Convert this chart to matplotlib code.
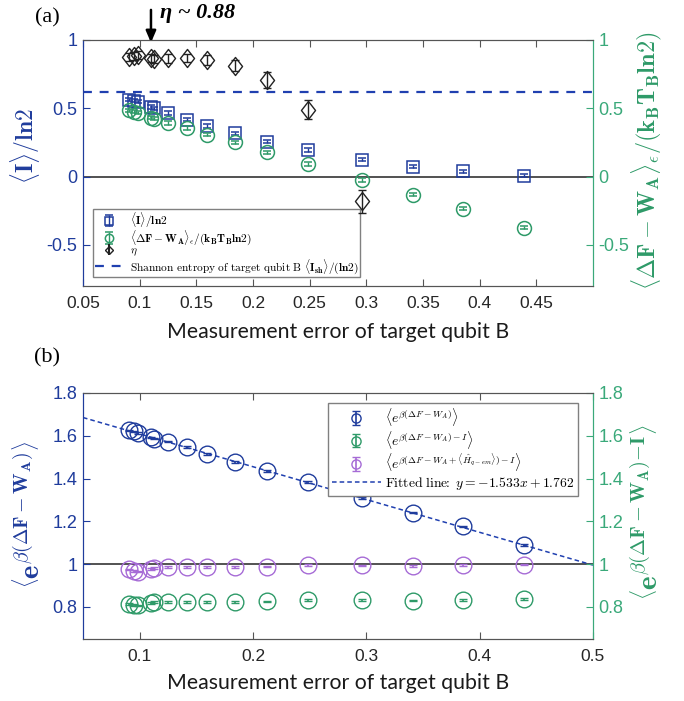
import matplotlib
matplotlib.use("Agg")
import matplotlib.pyplot as plt
from matplotlib.path import Path

plt.rcParams["mathtext.fontset"] = "cm"
plt.rcParams["font.family"] = ["Liberation Sans", "DejaVu Sans"]

# Measurement error of target qubit B (shared by both panels)
err_b = [0.0909, 0.0948, 0.0988, 0.1104, 0.1131, 0.1248, 0.1415, 0.159,
         0.1844, 0.2125, 0.2488, 0.2963, 0.341, 0.385, 0.439]

# Panel (a): mutual information, extracted work and efficiency
info = [0.564, 0.556, 0.548, 0.51, 0.50, 0.466, 0.417, 0.37,
        0.318, 0.257, 0.196, 0.125, 0.0735, 0.039, 0.007]
info_err = [0.012] * 15
work = [0.485, 0.475, 0.467, 0.432, 0.424, 0.392, 0.355, 0.306,
        0.252, 0.179, 0.093, -0.024, -0.132, -0.233, -0.373]
work_err = [0.012] * 15
eta_x = err_b[:12]
eta = [0.877, 0.885, 0.892, 0.870, 0.862, 0.865, 0.870, 0.853,
       0.811, 0.706, 0.490, -0.180]
eta_err = [0.03, 0.03, 0.03, 0.03, 0.03, 0.03, 0.03, 0.035,
           0.04, 0.06, 0.07, 0.085]
shannon = 0.62
eta_mark = 0.11

# Panel (b): Jarzynski-type averages
jar_full = [1.625, 1.620, 1.614, 1.592, 1.587, 1.573, 1.547, 1.516,
            1.477, 1.434, 1.383, 1.309, 1.241, 1.176, 1.089]
jar_info = [0.815, 0.810, 0.807, 0.820, 0.822, 0.824, 0.824, 0.824,
            0.824, 0.826, 0.831, 0.832, 0.830, 0.834, 0.836]
jar_qem = [0.975, 0.968, 0.965, 0.978, 0.981, 0.986, 0.987, 0.987,
           0.988, 0.989, 0.995, 0.994, 0.993, 0.997, 0.998]
jar_err = [0.004] * 15
fit_slope, fit_icpt = -1.533, 1.762
fit_x = [0.05, 0.5]

blue = "#1f3c9c"
green = "#2e9a68"
green_lt = "#3aa97a"
purple = "#a66bd6"
black = "#222222"
frame = "#555555"

diamond = Path([(0, 1), (0.78, 0), (0, -1), (-0.78, 0), (0, 1)],
               [Path.MOVETO, Path.LINETO, Path.LINETO, Path.LINETO, Path.CLOSEPOLY])

fig = plt.figure(figsize=(6.84, 7.01), dpi=100)
ax1 = fig.add_axes([0.1213, 0.592, 0.7456, 0.351])
ax3 = fig.add_axes([0.1213, 0.0884, 0.7456, 0.351])


def style_axes(ax, ax_r, xticks, yticks):
    ax.set_xticks(xticks, [f"{t:g}" for t in xticks])
    ax.set_yticks(yticks, [f"{t:g}" for t in yticks])
    ax_r.set_yticks(yticks, [f"{t:g}" for t in yticks])
    ax.tick_params(axis="x", direction="in", top=True, length=5, width=0.8,
                   color=frame, labelcolor="#262626", labelsize=12.5, pad=7)
    ax.tick_params(axis="y", direction="in", length=5, width=0.8,
                   color=blue, labelcolor=blue, labelsize=13, pad=4)
    ax_r.tick_params(axis="y", direction="in", length=5, width=0.8,
                     color=green_lt, labelcolor=green_lt, labelsize=13, pad=4)
    for a in (ax, ax_r):
        a.spines["top"].set_color(frame)
        a.spines["bottom"].set_color(frame)
        a.spines["left"].set_color(blue)
        a.spines["right"].set_color(green_lt)
        for s in a.spines.values():
            s.set_linewidth(0.8)


# ---------- panel (a) ----------
ax2 = ax1.twinx()
ax1.set_xlim(0.05, 0.5)
ax1.set_ylim(-0.8, 1.0)
ax2.set_ylim(-0.8, 1.0)
ax1.axhline(0, color=black, lw=1.1, zorder=1)
h_sh = ax1.axhline(shannon, color="#2040b0", lw=1.6, ls=(0, (4, 3.5)), zorder=1,
                   label=r"$\mathrm{Shannon\ entropy\ of\ target\ qubit\ B}\ "
                         r"\langle\mathbf{I_{sh}}\rangle/(\mathbf{ln2})$")
h_i = ax1.errorbar(err_b, info, yerr=info_err, fmt="s", ms=9, mfc="none",
                   mec=blue, mew=1.1, ecolor=blue, elinewidth=1, capsize=3,
                   label=r"$\langle\mathbf{I}\rangle/\mathbf{ln2}$", zorder=3)
h_w = ax2.errorbar(err_b, work, yerr=work_err, fmt="o", ms=10, mfc="none",
                   mec=green, mew=1.1, ecolor=green, elinewidth=1, capsize=3,
                   label=r"$\langle\mathbf{\Delta F-W_A}\rangle_\epsilon"
                         r"/(\mathbf{k_BT_Bln2})$", zorder=3)
h_e = ax1.errorbar(eta_x, eta, yerr=eta_err, fmt="none", ecolor=black,
                   elinewidth=1, capsize=3, zorder=6)
ax1.plot(eta_x, eta, ls="none", marker=diamond, ms=13, mfc="none",
         mec=black, mew=1.0, zorder=6)
h_eta = ax1.errorbar([], [], yerr=[], fmt="D", ms=7, mfc="none", mec=black,
                     ecolor=black, capsize=3, label=r"$\eta$")

style_axes(ax1, ax2, [0.05, 0.1, 0.15, 0.2, 0.25, 0.3, 0.35, 0.4, 0.45],
           [-0.5, 0, 0.5, 1])
ax1.set_ylabel(r"$\langle\mathbf{I}\rangle/\mathbf{ln2}$", color=blue,
               fontsize=17, va="center")
ax1.yaxis.set_label_coords(-0.114, 0.57)
ax2.set_ylabel(r"$\langle\mathbf{\Delta F-W_A}\rangle_\epsilon/(\mathbf{k_BT_Bln2})$",
               color=green, fontsize=17.5, va="center", rotation=90)
ax2.yaxis.set_label_coords(1.106, 0.51)
ax1.set_xlabel("Measurement error of target qubit B", family="Lato",
               fontsize=15.3, color="#1a1a1a", va="center")
ax1.xaxis.set_label_coords(0.5, -0.187)

leg1 = ax1.legend([h_i, h_w, h_eta, h_sh],
                  [h_i.get_label(), h_w.get_label(), r"$\eta$", h_sh.get_label()],
                  loc="lower left", bbox_to_anchor=(0.02, 0.037), fontsize=8.2,
                  markerscale=0.6, fancybox=False, framealpha=1,
                  edgecolor="#808080", borderpad=0.12, labelspacing=-0.12,
                  handlelength=2.6, handletextpad=0.5, borderaxespad=0)
leg1.get_frame().set_linewidth(1.0)
leg1.set_zorder(5)

ax1.annotate("", xy=(eta_mark, 0.98), xytext=(eta_mark, 1.22),
             xycoords="data", annotation_clip=False,
             arrowprops=dict(arrowstyle="-|>,head_length=0.7,head_width=0.3",
                             color="black", lw=1.8, shrinkA=0, shrinkB=0))
fig.text(160 / 684, 1 - 13 / 701, "η ~ 0.88", family="Liberation Serif",
         weight="bold", style="italic", fontsize=16, va="center", ha="left")
fig.text(47 / 684, 1 - 18 / 701, "(a)", family="Liberation Serif",
         fontsize=16, va="center", ha="center")

# ---------- panel (b) ----------
ax4 = ax3.twinx()
ax3.set_xlim(0.05, 0.5)
ax3.set_ylim(0.65, 1.8)
ax4.set_ylim(0.65, 1.8)
ax3.axhline(1.0, color="#444444", lw=1.3, zorder=1)
h_fit, = ax3.plot(fit_x, [fit_slope * x + fit_icpt for x in fit_x],
                  color="#2040b0", lw=1.1, ls=(0, (3, 2)), zorder=2,
                  label=r"$\mathrm{Fitted\ line}\!\!:\ y=-1.533x+1.762$")
h_f = ax3.errorbar(err_b, jar_full, yerr=jar_err, fmt="o", ms=12, mfc="none",
                   mec=blue, mew=1.0, ecolor=blue, elinewidth=1.2, capsize=3,
                   zorder=3, label=r"$\langle e^{\beta(\Delta F-W_A)}\rangle$")
h_g = ax4.errorbar(err_b, jar_info, yerr=jar_err, fmt="o", ms=12, mfc="none",
                   mec=green, mew=1.0, ecolor=green, elinewidth=1.2, capsize=3,
                   zorder=3, label=r"$\langle e^{\beta(\Delta F-W_A)-I}\rangle$")
h_p = ax3.errorbar(err_b, jar_qem, yerr=jar_err, fmt="o", ms=12, mfc="none",
                   mec=purple, mew=1.0, ecolor=purple, elinewidth=1.2, capsize=3,
                   zorder=3,
                   label=r"$\langle e^{\beta(\Delta F-W_A+\langle\hat{H}_{q-em}\rangle)-I}\rangle$")

style_axes(ax3, ax4, [0.1, 0.2, 0.3, 0.4, 0.5], [0.8, 1, 1.2, 1.4, 1.6, 1.8])
ax3.set_ylabel(r"$\left\langle\mathbf{e}^{\beta(\mathbf{\Delta F-W_A})}\right\rangle$",
               color=blue, fontsize=20.5, va="center")
ax3.yaxis.set_label_coords(-0.104, 0.508)
ax4.set_ylabel(r"$\left\langle\mathbf{e}^{\beta(\mathbf{\Delta F-W_A})\mathbf{-I}}\right\rangle$",
               color=green, fontsize=21, va="center", rotation=90)
ax4.yaxis.set_label_coords(1.106, 0.516)
ax3.set_xlabel("Measurement error of target qubit B", family="Lato",
               fontsize=15.3, color="#1a1a1a", va="center")
ax3.xaxis.set_label_coords(0.5, -0.179)

leg2 = ax4.legend([h_f, h_g, h_p, h_fit],
                  [h_f.get_label(), h_g.get_label(), h_p.get_label(), h_fit.get_label()],
                  loc="upper right", bbox_to_anchor=(0.97, 0.96), fontsize=9.8,
                  markerscale=0.55, fancybox=False, framealpha=1,
                  edgecolor="#808080", borderpad=0.25, labelspacing=0.05,
                  handlelength=3.6, handletextpad=0.3, borderaxespad=0)
leg2.get_frame().set_linewidth(1.0)

fig.text(47 / 684, 1 - 358 / 701, "(b)", family="Liberation Serif",
         fontsize=16, va="center", ha="center")

fig.savefig("out.png", dpi=100)
